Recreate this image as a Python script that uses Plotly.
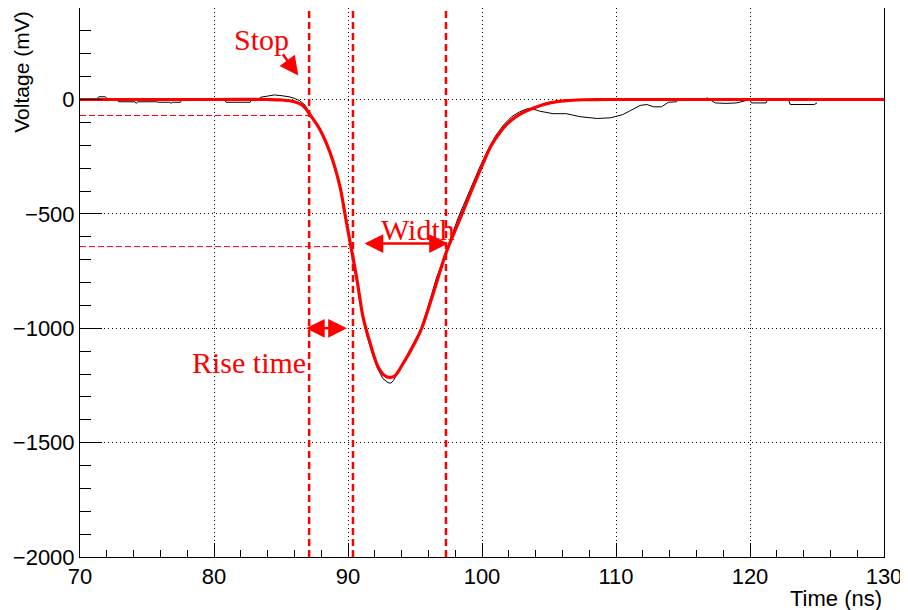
import plotly.graph_objects as go

# ---- measured waveform (ns, mV) ----
time_data = [70.0, 71.2, 71.4, 71.9, 72.1, 72.7, 72.9, 74.1, 74.2, 74.3, 75.7, 75.9, 76.7, 76.8, 76.9, 77.5, 77.6,
             80.8, 80.9, 82.7, 82.8, 83.3, 83.5, 84.0, 84.5, 85.0, 85.6, 86.0, 86.4, 86.8, 87.2, 87.6, 88.0, 88.6,
             89.0, 89.4, 89.8, 90.2, 90.6, 91.0, 91.4, 91.8, 92.2, 92.6, 93.0, 93.2, 93.4, 93.8, 94.2, 94.8, 95.4,
             96.0, 96.6, 97.2, 97.8, 98.2, 98.6, 99.2, 99.8, 100.4, 101.0, 101.6, 102.2, 102.8, 103.4, 103.8, 104.3,
             105.3, 106.3, 107.3, 108.6, 109.6, 110.1, 110.5, 111.0, 111.8, 112.3, 112.8, 113.4, 113.9, 114.5, 114.7,
             116.6, 116.8, 117.0, 117.4, 118.2, 119.0, 120.0, 120.1, 121.2, 121.3, 122.3, 122.9, 123.0, 124.8, 125.0]
volt_data = [0, 0, 12, 12, 0, 0, -10, -10, -17, -10, -10, -12, -12, -17, -12, -12, 0,
             0, -12, -12, 0, 0, 10, 15, 20, 17, 12, 5, -5, -25, -62, -100, -145, -228,
             -300, -385, -510, -630, -770, -915, -1030, -1110, -1175, -1220, -1238, -1240, -1228, -1185, -1140, -1080, -1010,
             -900, -780, -685, -580, -520, -465, -380, -300, -225, -160, -112, -76, -54, -40, -41, -51,
             -62, -62, -75, -83, -80, -73, -66, -51, -26, -22, -32, -32, -12, -10, 0,
             0, 7, 0, -15, -17, -15, 0, -15, -15, 0, 0, -5, -22, -22, -15]

# ---- fitted pulse (ns, mV) ----
time_fit = [70.0, 80.0, 84.0, 85.0, 86.0, 86.6, 87.16, 87.9, 88.66, 89.4, 89.78, 90.15, 90.67, 91.12, 91.64,
            92.24, 92.7, 93.13, 93.5, 94.0, 95.0, 95.5, 96.37, 97.35, 98.3, 99.1, 100.07, 100.7,
            101.34, 102.0, 102.84, 103.8, 105.07, 106.3, 107.5, 109.0, 130.0]
volt_fit = [0, 0, 0, -2, -10, -25, -66, -131, -232, -381, -503, -622, -788, -950, -1063,
            -1168, -1205, -1215, -1208, -1165, -1062, -1000, -846, -665, -530, -415, -280, -200,
            -144, -100, -64, -38, -15, -5, -1, 0, 0]

# ---- markers of pulse parameters ----
t_stop = 87.1        # ns
t_rise_end = 90.37   # ns
t_width_end = 97.31  # ns
v_stop = -70         # mV
v_half = -643        # mV
v_rise_arrow = -1000 # mV

x_range = [70, 130]
y_range = [-2000, 400]

fig = go.Figure()
fig.add_trace(go.Scatter(x=time_data, y=volt_data, mode="lines",
                         line=dict(color="black", width=1), showlegend=False))
fig.add_trace(go.Scatter(x=time_fit, y=volt_fit, mode="lines", line_shape="spline",
                         line=dict(color="#ff0000", width=3.2), showlegend=False))

for t in [t_stop, t_rise_end, t_width_end]:
    fig.add_trace(go.Scatter(x=[t, t], y=y_range, mode="lines",
                             line=dict(color="#ff0000", width=2.5, dash="7px,4px"), showlegend=False))
fig.add_trace(go.Scatter(x=[x_range[0], t_stop], y=[v_stop, v_stop], mode="lines",
                         line=dict(color="#ff0000", width=1, dash="6px,3px"), showlegend=False))
fig.add_trace(go.Scatter(x=[x_range[0], t_rise_end], y=[v_half, v_half], mode="lines",
                         line=dict(color="#ff0000", width=1, dash="6px,3px"), showlegend=False))

red_font = dict(family="Liberation Serif", size=30, color="#ff0000")
arrow_style = dict(arrowhead=2, arrowsize=1.5, arrowwidth=2.5, arrowcolor="#ff0000", standoff=0)
annots = [
    dict(x=83.51, y=262, text="Stop", showarrow=False, font=red_font, xanchor="center", yanchor="middle"),
    dict(x=95.25, y=-567, text="Width", showarrow=False, font=red_font, xanchor="center", yanchor="middle"),
    dict(x=82.59, y=-1151, text="Rise time", showarrow=False, font=red_font, xanchor="center", yanchor="middle"),
    dict(x=86.29, y=105, ax=85.05, ay=204, axref="x", ayref="y", text="", showarrow=True, **arrow_style),
    dict(x=t_width_end + 0.15, y=-630, ax=t_rise_end + 0.75, ay=-630, axref="x", ayref="y", text="",
         showarrow=True, arrowside="end+start", startarrowhead=2, startarrowsize=1.5, startstandoff=0,
         **arrow_style),
    dict(x=t_rise_end - 0.45, y=v_rise_arrow, ax=t_stop - 0.35, ay=v_rise_arrow, axref="x", ayref="y", text="",
         showarrow=True, arrowside="end+start", startarrowhead=2, startarrowsize=1.5, startstandoff=0,
         **arrow_style),
    dict(x=-0.0721, y=0.996, xref="paper", yref="paper", text="Voltage (mV)", textangle=-90, showarrow=False,
         font=dict(family="Liberation Sans", size=21, color="black"), xanchor="center", yanchor="top"),
    dict(x=1.0, y=-0.05, xref="paper", yref="paper", text="Time (ns)", showarrow=False,
         font=dict(family="Liberation Sans", size=22, color="black"), xanchor="right", yanchor="top"),
]

axis_common = dict(showline=True, mirror=True, linecolor="black", linewidth=1, zeroline=False,
                   showgrid=True, gridcolor="black", griddash="1px,3px", gridwidth=1,
                   ticks="inside", tickcolor="black",
                   tickfont=dict(family="Liberation Sans", size=22, color="black"))

fig.update_layout(
    width=900, height=602,
    margin=dict(l=72, r=24, t=0, b=53),
    paper_bgcolor="white", plot_bgcolor="white",
    annotations=annots,
    xaxis=dict(range=x_range, tick0=70, dtick=10, ticklen=14,
               minor=dict(dtick=2, ticks="inside", ticklen=7, tickcolor="black", showgrid=False),
               **axis_common),
    yaxis=dict(range=y_range, tick0=0, dtick=500, ticklen=22,
               minor=dict(dtick=100, ticks="inside", ticklen=11, tickcolor="black", showgrid=False),
               **axis_common),
)

fig.write_html("out.html")
